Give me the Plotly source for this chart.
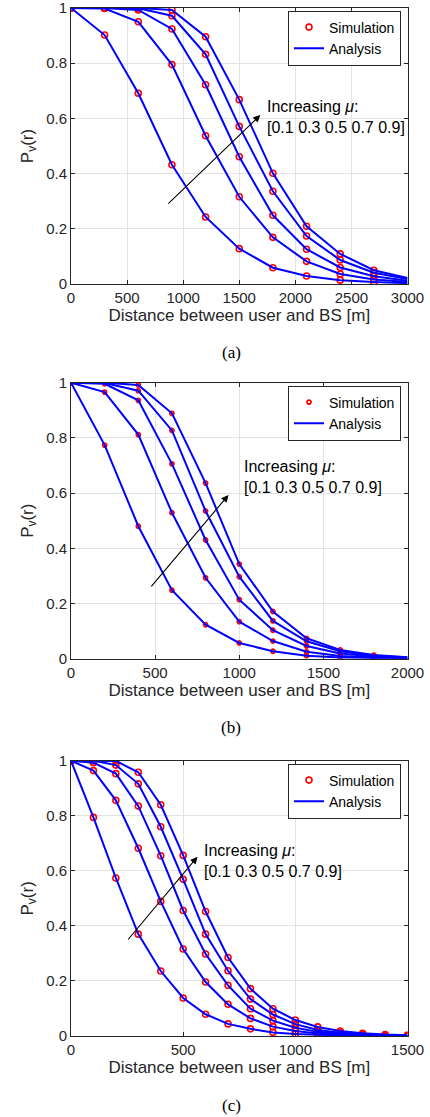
import plotly.graph_objects as go

# ---------------- data ----------------
x_a = [0, 300, 600, 900, 1200, 1500, 1800, 2100, 2400, 2700, 3000]
pa_01 = [1.0, 0.902, 0.691, 0.432, 0.243, 0.128, 0.059, 0.029, 0.014, 0.007, 0.003]
pa_03 = [1.0, 0.998, 0.950, 0.795, 0.537, 0.316, 0.169, 0.082, 0.036, 0.016, 0.007]
pa_05 = [1.0, 1.0, 0.993, 0.924, 0.722, 0.461, 0.249, 0.126, 0.060, 0.028, 0.012]
pa_07 = [1.0, 1.0, 0.999, 0.972, 0.832, 0.571, 0.336, 0.174, 0.087, 0.041, 0.018]
pa_09 = [1.0, 1.0, 1.0, 0.993, 0.896, 0.668, 0.401, 0.209, 0.109, 0.050, 0.022]

x_b = [0, 200, 400, 600, 800, 1000, 1200, 1400, 1600, 1800, 2000]
pb_01 = [1.0, 0.774, 0.480, 0.248, 0.123, 0.057, 0.027, 0.011, 0.004, 0.002, 0.001]
pb_03 = [1.0, 0.966, 0.812, 0.529, 0.293, 0.134, 0.064, 0.025, 0.010, 0.004, 0.002]
pb_05 = [1.0, 0.996, 0.936, 0.706, 0.430, 0.214, 0.103, 0.046, 0.019, 0.008, 0.003]
pb_07 = [1.0, 0.999, 0.971, 0.827, 0.535, 0.297, 0.137, 0.063, 0.027, 0.011, 0.004]
pb_09 = [1.0, 1.0, 0.992, 0.889, 0.636, 0.343, 0.171, 0.074, 0.032, 0.013, 0.005]

x_c = [0, 100, 200, 300, 400, 500, 600, 700, 800, 900, 1000, 1100, 1200, 1300, 1400, 1500]
pc_01 = [1.0, 0.794, 0.574, 0.370, 0.236, 0.138, 0.079, 0.044, 0.026, 0.013, 0.007, 0.004, 0.002, 0.001, 0.001, 0.0]
pc_03 = [1.0, 0.964, 0.856, 0.682, 0.489, 0.316, 0.196, 0.115, 0.064, 0.034, 0.018, 0.009, 0.005, 0.002, 0.001, 0.001]
pc_05 = [1.0, 0.993, 0.953, 0.835, 0.655, 0.456, 0.298, 0.184, 0.099, 0.056, 0.030, 0.015, 0.008, 0.004, 0.002, 0.001]
pc_07 = [1.0, 1.0, 0.984, 0.916, 0.760, 0.569, 0.370, 0.237, 0.134, 0.078, 0.043, 0.022, 0.012, 0.006, 0.003, 0.001]
pc_09 = [1.0, 1.0, 0.999, 0.958, 0.840, 0.656, 0.452, 0.285, 0.172, 0.099, 0.058, 0.033, 0.018, 0.010, 0.005, 0.003]

y_ticks = [0, 0.2, 0.4, 0.6, 0.8, 1]
y_tick_text = ["0", "0.2", "0.4", "0.6", "0.8", "1"]
xticks_a = [0, 500, 1000, 1500, 2000, 2500, 3000]
xticks_b = [0, 500, 1000, 1500, 2000]
xticks_c = [0, 500, 1000, 1500]

x_title = "Distance between user and BS [m]"
y_title = "P<sub>v</sub>(r)"
captions = ["(a)", "(b)", "(c)"]
legend_names = ["Simulation", "Analysis"]
annot_text = "Increasing <i>μ</i>:<br>[0.1 0.3 0.5 0.7 0.9]"

# ---------------- styling ----------------
W, H = 430, 1117
FONT = "Liberation Sans, Arial, Helvetica, sans-serif"
AXC = "#262626"
GRID = "#e3e3e3"
BLUE = "#0000ff"
RED = "#ff0000"

panels = [
    dict(x=x_a, ys=[pa_01, pa_03, pa_05, pa_07, pa_09], nsim=10, xt=xticks_a, xmax=3000,
         top=8, bot=284, msize=6, mline=1.6, leg_top=10.5,
         arrow=(854, 0.286, 1688, 0.612), text=(1732, 0.606), cap_y=353),
    dict(x=x_b, ys=[pb_01, pb_03, pb_05, pb_07, pb_09], nsim=10, xt=xticks_b, xmax=2000,
         top=382.7, bot=658.7, msize=4, mline=1.8, leg_top=385.5,
         arrow=(470, 0.257, 936, 0.593), text=(1014, 0.660), cap_y=727.5),
    dict(x=x_c, ys=[pc_01, pc_03, pc_05, pc_07, pc_09], nsim=16, xt=xticks_c, xmax=1500,
         top=760.7, bot=1036, msize=6, mline=1.6, leg_top=763.5,
         arrow=(249, 0.345, 564, 0.651), text=(583, 0.636), cap_y=1105),
]

X0, X1 = 71, 407.5

fig = go.Figure()
layout = dict(
    width=W, height=H, autosize=False,
    margin=dict(l=0, r=0, t=0, b=0, pad=0, autoexpand=False),
    paper_bgcolor="white", plot_bgcolor="white",
    font=dict(family=FONT, size=15, color=AXC),
    showlegend=True,
)
annotations = []

for i, p in enumerate(panels):
    k = "" if i == 0 else str(i + 1)
    xa, ya = "x" + k, "y" + k
    leg = "legend" + k
    for j, yv in enumerate(p["ys"]):
        fig.add_trace(go.Scatter(
            x=p["x"][:p["nsim"]], y=yv[:p["nsim"]], mode="markers",
            marker=dict(symbol="circle-open", size=p["msize"], color=RED,
                        line=dict(width=p["mline"], color=RED)),
            name=legend_names[0], showlegend=(j == 0), legend=leg,
            xaxis=xa, yaxis=ya, hoverinfo="skip"))
    for j, yv in enumerate(p["ys"]):
        fig.add_trace(go.Scatter(
            x=p["x"], y=yv, mode="lines",
            line=dict(color=BLUE, width=2),
            name=legend_names[1], showlegend=(j == 0), legend=leg,
            xaxis=xa, yaxis=ya, hoverinfo="skip"))

    axis_common = dict(
        showline=True, linecolor=AXC, linewidth=1, mirror="allticks",
        ticks="inside", ticklen=4, tickcolor=AXC, tickwidth=1,
        showgrid=True, gridcolor=GRID, gridwidth=1, zeroline=False,
        tickfont=dict(family=FONT, size=15, color=AXC), automargin=False,
        ticklabeloverflow="allow",
    )
    layout["xaxis" + k] = dict(
        axis_common, domain=[X0 / W, X1 / W], range=[0, p["xmax"]],
        tickvals=p["xt"], anchor=ya,
        title=dict(text=x_title, font=dict(family=FONT, size=17, color=AXC), standoff=4),
    )
    layout["yaxis" + k] = dict(
        axis_common, domain=[1 - p["bot"] / H, 1 - p["top"] / H], range=[0, 1],
        tickvals=y_ticks, ticktext=y_tick_text, anchor=xa,
        title=dict(text=y_title, font=dict(family=FONT, size=17, color=AXC), standoff=8),
    )
    layout[leg] = dict(
        x=401 / W, xanchor="right", y=1 - p["leg_top"] / H, yanchor="top",
        bgcolor="white", bordercolor=AXC, borderwidth=1,
        font=dict(family=FONT, size=14, color="#000000"),
        itemwidth=30, tracegroupgap=0, traceorder="normal",
    )
    ax0, ay0, hx, hy = p["arrow"]
    annotations.append(dict(
        x=hx, y=hy, ax=ax0, ay=ay0, xref=xa, yref=ya, axref=xa, ayref=ya,
        text="", showarrow=True, arrowhead=2, arrowsize=1.3, arrowwidth=1.1,
        arrowcolor="#000000", standoff=0, startstandoff=0))
    tx, ty = p["text"]
    annotations.append(dict(
        x=tx, y=ty, xref=xa, yref=ya, text=annot_text, showarrow=False,
        xanchor="left", yanchor="middle", align="left",
        font=dict(family=FONT, size=16, color="#000000")))
    annotations.append(dict(
        x=231 / W, y=1 - p["cap_y"] / H, xref="paper", yref="paper",
        text=captions[i], showarrow=False, xanchor="center", yanchor="middle",
        font=dict(family="Liberation Serif, Times New Roman, serif", size=17, color="#000000")))

layout["annotations"] = annotations
fig.update_layout(**layout)
fig.write_html("out.html", config={"responsive": False, "displayModeBar": False})
